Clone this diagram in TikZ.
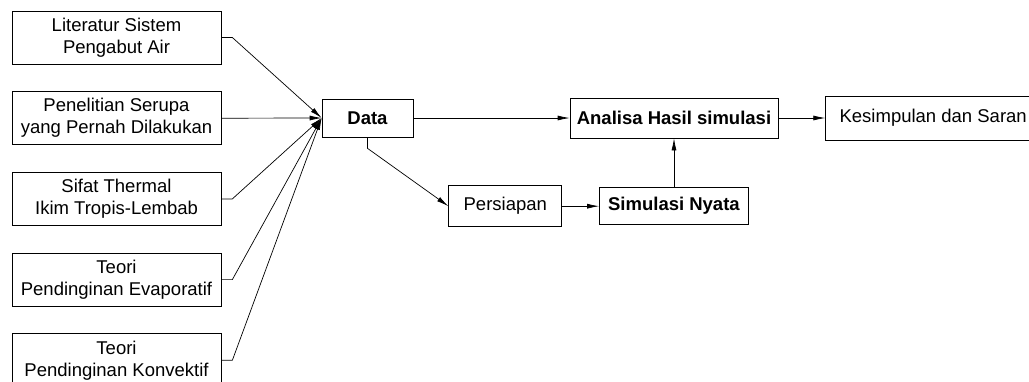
\documentclass[tikz,border=0pt]{standalone}
\usepackage{fontspec}
\setmainfont{Liberation Sans}
\usetikzlibrary{positioning,arrows.meta}
\tikzset{>={Latex[length=12pt,width=5pt]}}

\begin{document}
\begin{tikzpicture}[->,x=1pt,y=-1pt,line width=0.7pt,node distance=27pt,
                    font=\fontsize{18.5}{22}\selectfont]
      \tikzstyle{sumber}=[draw,rectangle,align=center,minimum width=209pt,minimum height=53pt,inner sep=1pt]
      \tikzstyle{proses}=[draw,rectangle,minimum height=38pt,inner sep=2pt]
      \useasboundingbox (0,0) rectangle (1029,381);

      \node[sumber]  (lit)     at (116.5,37.5)                 {Literatur Sistem\\Pengabut Air};
      \node[sumber]  (serupa)  [below=of lit]                  {Penelitian Serupa\\yang Pernah Dilakukan};
      \node[sumber]  (termal)  [below=of serupa]               {Sifat Thermal\\Ikim Tropis-Lembab};
      \node[sumber]  (evap)    [below=of termal]               {Teori\\Pendinginan Evaporatif};
      \node[sumber]  (konv)    [below=of evap]                 {Teori\\Pendinginan Konvektif};

      \node[proses,minimum width=91pt]  (data)     at (367.5,118)          {\textbf{Data}};
      \node[proses,minimum width=208pt,minimum height=40pt] (analisa) at (674,118) {\textbf{Analisa Hasil simulasi}};
      \node[proses,minimum width=215pt,minimum height=44pt] (simpul) [right=47pt of analisa] {Kesimpulan dan Saran\hspace{8pt}};
      \node[proses,minimum width=149pt,minimum height=37pt] (nyata) [below=49pt of analisa] {\textbf{Simulasi Nyata}};
      \node[proses,minimum width=113pt,minimum height=41pt] (siap)  [left=37pt of nyata]     {Persiapan};

      \draw (lit.east)    -- ++(11,0) -- (data.west);
      \draw (serupa.east) -- (data.west);
      \draw (termal.east) -- ++(11,0) -- (data.west);
      \draw (evap.east)   -- ++(11,0) -- (data.west);
      \draw (konv.east)   -- ++(11,0) -- (data.west);

      \draw (data)        -- (analisa);
      \draw (data.south)  -- ++(0,11) -- (siap.west);
      \draw (siap)        -- (nyata);
      \draw (nyata)       -- (analisa);
      \draw (analisa)     -- (simpul);
\end{tikzpicture}
\end{document}
